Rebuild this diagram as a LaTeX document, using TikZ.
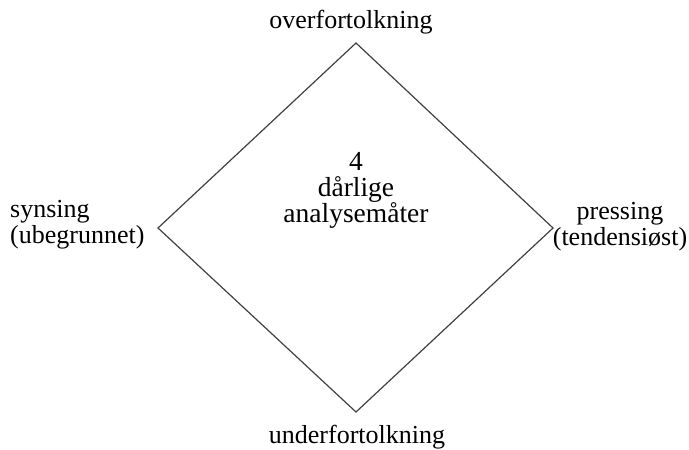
\documentclass[tikz,border=0pt]{standalone}
\usepackage{fontspec}
\setmainfont{Liberation Serif}
\tikzset{
label/.style = {font=\fontsize{26}{26}\selectfont, inner sep=0pt, align=center},}

\begin{document}
\begin{tikzpicture}[x=1pt, y=-1pt]
    \useasboundingbox (0,0) rectangle (689,450);
    \coordinate (top) at (356,43);
    \coordinate (right) at (553,228);
    \coordinate (bottom) at (356,412);
    \coordinate (left) at (158,228);
    \draw[black!75, line width=1.2pt, line join=miter] (top) -- (right) -- (bottom) -- (left) -- cycle;
    \node[label, font=\fontsize{27.5}{26}\selectfont] (center) at (356,190) {4\\dårlige\\analysemåter};
    \node[label] (over) at (351,22) {overfortolkning};
    \node[label] (under) at (357,437) {underfortolkning};
    \node[label, align=left, anchor=west] (synsing) at (10,225) {synsing\\(ubegrunnet)};
    \node[label] (pressing) at (620,227) {pressing\\(tendensiøst)};
\end{tikzpicture}
\end{document}
